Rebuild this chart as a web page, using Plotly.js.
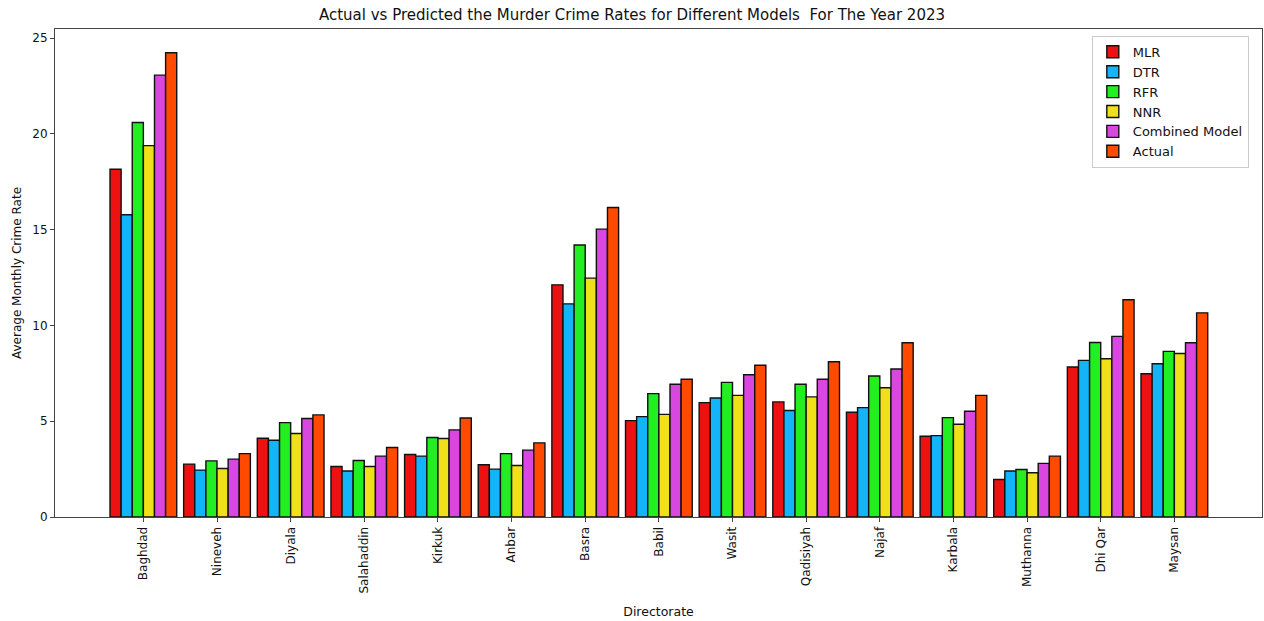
<!DOCTYPE html>
<html>
<head>
<meta charset="utf-8">
<script src="https://cdn.plot.ly/plotly-3.0.1.min.js"></script>
<style>html,body{margin:0;padding:0;background:#fff;}#chart{width:1264px;height:621px;}</style>
</head>
<body>
<div id="chart"></div>
<script>
const directorates = ["Baghdad","Nineveh","Diyala","Salahaddin","Kirkuk","Anbar","Basra","Babil","Wasit","Qadisiyah","Najaf","Karbala","Muthanna","Dhi Qar","Maysan"];
const MLR      = [18.16, 2.76, 4.11, 2.64, 3.26, 2.73, 12.12, 5.03, 5.97, 6.01, 5.47, 4.22, 1.96, 7.83, 7.48];
const DTR      = [15.78, 2.45, 4.01, 2.40, 3.18, 2.50, 11.13, 5.24, 6.21, 5.56, 5.71, 4.25, 2.40, 8.18, 8.00];
const RFR      = [20.60, 2.93, 4.93, 2.95, 4.15, 3.31, 14.20, 6.44, 7.03, 6.93, 7.36, 5.19, 2.48, 9.11, 8.65];
const NNR      = [19.39, 2.53, 4.36, 2.64, 4.10, 2.69, 12.47, 5.36, 6.35, 6.27, 6.75, 4.84, 2.31, 8.26, 8.54];
const Combined = [23.07, 3.02, 5.14, 3.18, 4.55, 3.49, 15.03, 6.93, 7.43, 7.19, 7.73, 5.52, 2.80, 9.43, 9.10];
const Actual   = [24.24, 3.31, 5.33, 3.63, 5.17, 3.87, 16.16, 7.19, 7.92, 8.11, 9.10, 6.35, 3.18, 11.34, 10.66];

const seriesNames = ["MLR","DTR","RFR","NNR","Combined Model","Actual"];
const seriesData = [MLR, DTR, RFR, NNR, Combined, Actual];
const colors = ["#ee1111","#14b4f8","#22ee22","#f0e01a","#d946e0","#ff4a00"];

const idx = directorates.map((d,i)=>i);
const traces = seriesNames.map((n,k)=>({
  type:'bar', name:n, x:idx, y:seriesData[k],
  marker:{color:colors[k], line:{color:'#111', width:1.4}},
  hoverinfo:'y+name'
}));

const font = "DejaVu Sans, Verdana, sans-serif";
const layout = {
  width:1264, height:621,
  margin:{l:55, r:2, t:29, b:104},
  paper_bgcolor:'#fff', plot_bgcolor:'#fff',
  barmode:'group', bargap:0.094, bargroupgap:0,
  font:{family:font, size:12, color:'#111'},
  title:{text:"Actual vs Predicted the Murder Crime Rates for Different Models  For The Year 2023",
         font:{family:font, size:15, color:'#111'}, x:0.5, xanchor:'center', y:0.985, yanchor:'top'},
  xaxis:{
    range:[-1.2, 15.19], tickmode:'array', tickvals:idx, ticktext:directorates,
    tickangle:-90, ticks:'outside', ticklen:4, tickcolor:'#444',
    showline:true, linecolor:'#444', linewidth:1, mirror:true, showgrid:false, zeroline:false,
    tickfont:{family:font, size:12, color:'#111'},
    title:{text:"Directorate", font:{family:font, size:12.5, color:'#111'}, standoff:14}
  },
  yaxis:{
    range:[0, 25.48], tickvals:[0,5,10,15,20,25], ticks:'outside', ticklen:4, tickcolor:'#444',
    showline:true, linecolor:'#444', linewidth:1, mirror:true, showgrid:false, zeroline:false,
    tickfont:{family:font, size:12, color:'#111'},
    title:{text:"Average Monthly Crime Rate", font:{family:font, size:12, color:'#111'}, standoff:8}
  },
  legend:{x:0.859, y:0.986, xanchor:'left', yanchor:'top', bgcolor:'rgba(255,255,255,0.9)',
    bordercolor:'#ccc', borderwidth:1, font:{family:font, size:13, color:'#111'},
    tracegroupgap:0, itemwidth:30},
  showlegend:true
};
Plotly.newPlot('chart', traces, layout, {displayModeBar:false, staticPlot:true});
</script>
</body>
</html>
